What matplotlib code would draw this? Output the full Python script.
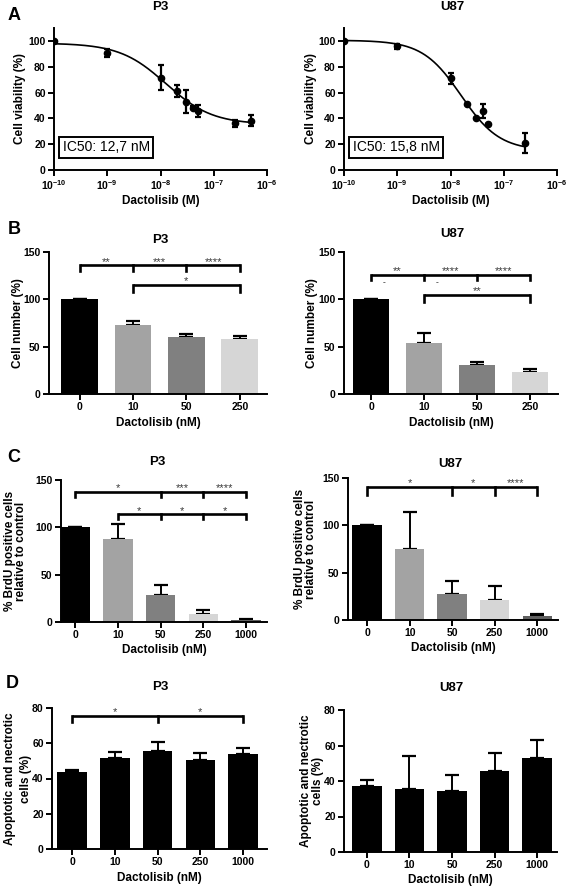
import matplotlib
matplotlib.use("Agg")
import matplotlib.pyplot as plt
import numpy as np

plt.rcParams['font.family'] = ['Liberation Sans', 'DejaVu Sans']
plt.rcParams['font.weight'] = 'bold'
plt.rcParams['mathtext.fontset'] = 'custom'
plt.rcParams['mathtext.rm'] = 'Liberation Sans:bold'
plt.rcParams['mathtext.bf'] = 'Liberation Sans:bold'
plt.rcParams['axes.linewidth'] = 1.4

# ---- data -------------------------------------------------------------
# A: viability vs dose (M)
dose_p3 = [1e-10, 1e-9, 1e-8, 2e-8, 3e-8, 4e-8, 5e-8, 2.5e-7, 5e-7]
via_p3 = [100, 90.7, 71.6, 61.3, 52.8, 48.3, 45.7, 36.2, 38.3]
via_p3_err = [0, 2.8, 9.5, 4.5, 9.0, 1.0, 4.5, 2.6, 4.3]
fit_p3 = [98.3, 35.3, 12.7e-9, 1.0]   # top, bottom, IC50, hill

dose_u87 = [1e-10, 1e-9, 1e-8, 2e-8, 3e-8, 4e-8, 5e-8, 2.5e-7]
via_u87 = [100, 95.9, 71.0, 51.0, 40.0, 45.6, 35.6, 21.1]
via_u87_err = [0, 2.0, 4.0, 0, 0, 5.4, 0, 7.8]
fit_u87 = [100.5, 15.0, 15.8e-9, 1.2]

ic50_labels = ['IC50: 12,7 nM', 'IC50: 15,8 nM']
decade_ticks = [1e-10, 1e-9, 1e-8, 1e-7, 1e-6]
decade_labels = [r'$10^{-10}$', r'$10^{-9}$', r'$10^{-8}$', r'$10^{-7}$', r'$10^{-6}$']

# B: cell number
conc_b = ['0', '10', '50', '250']
cellnum_p3 = [100, 72.7, 60.0, 58.0]
cellnum_p3_err = [0, 4.9, 2.9, 3.5]
cellnum_u87 = [100, 54.4, 30.2, 22.8]
cellnum_u87_err = [0, 9.9, 3.8, 3.5]

# C: BrdU
conc_c = ['0', '10', '50', '250', '1000']
brdu_p3 = [100, 88.2, 29.0, 8.5, 2.5]
brdu_p3_err = [0, 15.6, 9.8, 3.9, 1.0]
brdu_u87 = [100, 74.8, 27.5, 21.2, 4.6]
brdu_u87_err = [0, 38.9, 14.1, 14.8, 1.4]

# D: apoptotic / necrotic
apo_p3 = [43.8, 51.9, 55.5, 50.4, 53.8]
apo_p3_err = [1.2, 3.2, 5.3, 4.1, 3.7]
apo_u87 = [37.3, 35.6, 34.3, 45.4, 52.7]
apo_u87_err = [3.2, 18.4, 9.0, 10.5, 10.3]

# significance brackets: (height, drop, bar indices, labels)
sig_b_p3 = [(136, 6, [0, 1, 2, 3], ['**', '***', '****']),
            (115.5, 7.5, [1, 3], ['*'])]
sig_b_u87 = [(126, 6, [0, 1, 2, 3], ['**', '****', '****']),
             (105, 8, [1, 3], ['**'])]
sig_c_p3 = [(137.3, 5, [0, 2, 3, 4], ['*', '***', '****']),
            (114, 5, [1, 2, 3, 4], ['*', '*', '*'])]
sig_c_u87 = [(140.5, 8, [0, 2, 3, 4], ['*', '*', '****'])]
sig_d_p3 = [(75.5, 3.5, [0, 2, 4], ['*', '*'])]

grays4 = ['#000000', '#a3a3a3', '#808080', '#d6d6d6']
grays5 = ['#000000', '#a3a3a3', '#808080', '#d6d6d6', '#606060']

W, H = 567, 889
fig = plt.figure(figsize=(W / 100, H / 100), dpi=100)


def rect(x0, x1, ytop, ybot):
    return [x0 / W, 1 - ybot / H, (x1 - x0) / W, (ybot - ytop) / H]


def style(ax, ylab_x, spacing=0.95):
    for s in ['top', 'right']:
        ax.spines[s].set_visible(False)
    ax.tick_params(direction='out', length=4, width=1.4, labelsize=7.5, pad=2)
    for lab in ax.get_xticklabels() + ax.get_yticklabels():
        lab.set_fontweight('bold')
    ax.yaxis.set_label_coords(ylab_x, 0.5)
    ax.yaxis.label.set_linespacing(spacing)


def logistic(x, p):
    top, bottom, ic50, hill = p
    return bottom + (top - bottom) / (1 + (x / ic50) ** hill)


def viability(ax, dose, via, err, fit, label, ylab_x):
    xs = np.logspace(-10, np.log10(dose[-1]), 300)
    ax.plot(xs, logistic(xs, fit), color='black', lw=1.2)
    ax.errorbar(dose, via, yerr=err, fmt='o', color='black', ms=4.5,
                capsize=2.2, elinewidth=1.6, capthick=1.6)
    ax.set_xscale('log')
    ax.set_xlim(1e-10, 1e-6)
    ax.set_ylim(0, 110)
    ax.set_yticks([0, 20, 40, 60, 80, 100])
    ax.set_xticks(decade_ticks)
    ax.set_xticklabels(decade_labels)
    ax.minorticks_off()
    ax.set_xlabel('Dactolisib (M)', fontsize=8.5, fontweight='bold', labelpad=2)
    ax.set_ylabel('Cell viability (%)', fontsize=8.5, fontweight='bold')
    ax.text(0.245, 0.161, label, transform=ax.transAxes, ha='center', va='center',
            fontsize=10, fontweight='normal',
            bbox=dict(boxstyle='square,pad=0.25', fc='white', ec='black', lw=1.4))
    style(ax, ylab_x)


def bars(ax, cats, vals, errs, colors, ylim, yticks, xlim, ylabel, ylab_x,
         sigs=(), spacing=0.95):
    x = np.arange(len(cats))
    ax.bar(x, vals, width=0.69, color=colors, zorder=2)
    ax.errorbar(x, vals, yerr=[np.zeros(len(errs)), errs], fmt='none',
                ecolor='black', elinewidth=1.4, capsize=5, capthick=1.6, zorder=1)
    ax.set_xticks(x)
    ax.set_xticklabels(cats)
    ax.set_xlim(*xlim)
    ax.set_ylim(0, ylim)
    ax.set_yticks(yticks)
    ax.set_xlabel('Dactolisib (nM)', fontsize=8.5, fontweight='bold', labelpad=3)
    ax.set_ylabel(ylabel, fontsize=8.5, fontweight='bold')
    for h, drop, idx, labs in sigs:
        ax.plot([idx[0], idx[-1]], [h, h], color='black', lw=1.9,
                solid_capstyle='butt', clip_on=False)
        for i in idx:
            ax.plot([i, i], [h, h - drop], color='black', lw=1.9, clip_on=False)
        for k, lab in enumerate(labs):
            ax.text((idx[k] + idx[k + 1]) / 2, h + 0.5, lab, ha='center',
                    va='baseline', fontsize=8, color='#3a3a3a',
                    fontweight='normal')
    style(ax, ylab_x, spacing)


# ---- panel A --------------------------------------------------------
axA1 = fig.add_axes(rect(54, 267, 28, 170))
viability(axA1, dose_p3, via_p3, via_p3_err, fit_p3, ic50_labels[0], -0.131)
axA2 = fig.add_axes(rect(344, 557, 28, 170))
viability(axA2, dose_u87, via_u87, via_u87_err, fit_u87, ic50_labels[1], -0.128)

# ---- panel B --------------------------------------------------------
axB1 = fig.add_axes(rect(49, 267, 252, 394))
bars(axB1, conc_b, cellnum_p3, cellnum_p3_err, grays4, 150, [0, 50, 100, 150],
     (-0.576, 3.51), 'Cell number (%)', -0.114, sig_b_p3)
axB2 = fig.add_axes(rect(344, 558, 252, 394))
bars(axB2, conc_b, cellnum_u87, cellnum_u87_err, grays4, 150, [0, 50, 100, 150],
     (-0.51, 3.53), 'Cell number (%)', -0.12, sig_b_u87)
for xm in [0.25, 1.25]:
    axB2.text(xm, 118, '-', ha='center', va='center', fontsize=6, color='#444444')

# ---- panel C --------------------------------------------------------
brdu_label = '% BrdU positive cells\nrelative to control'
axC1 = fig.add_axes(rect(61, 267, 480, 622))
bars(axC1, conc_c, brdu_p3, brdu_p3_err, grays5, 150, [0, 50, 100, 150],
     (-0.33, 4.49), brdu_label, -0.164, sig_c_p3)
axC2 = fig.add_axes(rect(348, 558, 478, 620))
bars(axC2, conc_c, brdu_u87, brdu_u87_err, grays5, 150, [0, 50, 100, 150],
     (-0.45, 4.49), brdu_label, -0.146, sig_c_u87)

# ---- panel D --------------------------------------------------------
apo_label = 'Apoptotic and nectrotic\ncells (%)'
axD1 = fig.add_axes(rect(52, 267, 708, 849))
bars(axD1, conc_c, apo_p3, apo_p3_err, ['black'] * 5, 80, [0, 20, 40, 60, 80],
     (-0.47, 4.56), apo_label, -0.095, sig_d_p3, spacing=1.35)
axD2 = fig.add_axes(rect(344, 557, 710, 852))
bars(axD2, conc_c, apo_u87, apo_u87_err, ['black'] * 5, 80, [0, 20, 40, 60, 80],
     (-0.54, 4.47), apo_label, -0.094)

# ---- titles and panel letters ---------------------------------------
titles = [('P3', 160, 7), ('U87', 452, 7), ('P3', 160, 240), ('U87', 452, 234),
          ('P3', 157, 462), ('U87', 450, 464), ('P3', 160, 687), ('U87', 451, 688)]
for t, px, py in titles:
    fig.text(px / W, 1 - py / H, t, ha='center', va='center', fontsize=9.5,
             fontweight='bold')
for t, px, py in [('A', 14, 15), ('B', 14, 230), ('C', 14, 458), ('D', 12, 683)]:
    fig.text(px / W, 1 - py / H, t, ha='center', va='center', fontsize=13,
             fontweight='bold')

fig.savefig('out.png', dpi=100)
